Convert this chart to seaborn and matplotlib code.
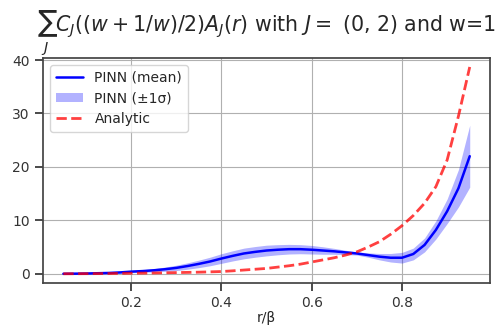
import numpy as np
import pandas as pd
import matplotlib
matplotlib.use("Agg")
import matplotlib.pyplot as plt
import seaborn as sns

r_vals = [0.05, 0.075, 0.1, 0.125, 0.15, 0.175, 0.2, 0.225, 0.25, 0.275,
          0.3, 0.325, 0.35, 0.375, 0.4, 0.425, 0.45, 0.475, 0.5, 0.525,
          0.55, 0.575, 0.6, 0.625, 0.65, 0.675, 0.7, 0.725, 0.75, 0.775,
          0.8, 0.825, 0.85, 0.875, 0.9, 0.925, 0.95]
pinn_mean = [0.0, 0.02, 0.05, 0.1, 0.15, 0.25, 0.4, 0.5, 0.65, 0.85,
             1.1, 1.45, 1.85, 2.3, 2.85, 3.35, 3.8, 4.1, 4.35, 4.5,
             4.6, 4.6, 4.5, 4.35, 4.2, 4.0, 3.8, 3.5, 3.2, 3.0,
             3.0, 3.7, 5.4, 8.2, 11.7, 16.0, 22.0]
pinn_std = [0.05, 0.06, 0.08, 0.1, 0.12, 0.15, 0.2, 0.25, 0.3, 0.4,
            0.5, 0.6, 0.7, 0.8, 0.9, 0.95, 1.0, 1.0, 1.0, 0.95,
            0.9, 0.85, 0.8, 0.7, 0.55, 0.4, 0.3, 0.4, 0.6, 0.8,
            1.0, 1.1, 1.3, 1.7, 2.3, 3.5, 5.8]
analytic = [0.0, 0.01, 0.02, 0.03, 0.05, 0.07, 0.1, 0.12, 0.15, 0.18,
            0.22, 0.26, 0.3, 0.36, 0.42, 0.55, 0.7, 0.85, 1.0, 1.25,
            1.5, 1.8, 2.2, 2.6, 3.0, 3.5, 4.1, 5.0, 6.0, 7.4,
            9.0, 10.9, 13.2, 16.3, 21.3, 29.5, 38.7]

df = pd.DataFrame({"r": r_vals, "mean": pinn_mean, "std": pinn_std, "analytic": analytic})
df["lo"] = df["mean"] - df["std"]
df["hi"] = df["mean"] + df["std"]

sns.set_theme(style="ticks")
plt.rcParams["font.family"] = ["DejaVu Sans"]

fig = plt.figure(figsize=(4.95, 3.27), dpi=100)
ax = fig.add_axes([0.087, 0.135, 0.903, 0.688])

sns.lineplot(data=df, x="r", y="mean", ax=ax, color="blue", lw=1.8, label="PINN (mean)")
ax.fill_between(df["r"], df["lo"], df["hi"], color="blue", alpha=0.3, lw=0, label="PINN (±1σ)")
sns.lineplot(data=df, x="r", y="analytic", ax=ax, color="red", alpha=0.75, lw=2,
             linestyle="--", label="Analytic")

ax.set_xlim(0.005, 0.995)
ax.set_ylim(-1.7, 40.4)
ax.set_xticks([0.2, 0.4, 0.6, 0.8])
ax.set_yticks([0, 10, 20, 30, 40])
ax.grid(True, color="#b0b0b0", lw=0.8)
ax.tick_params(labelsize=10, colors="#333333")
for s in ax.spines.values():
    s.set_color("#444444")
ax.set_xlabel("r/β", fontsize=10, labelpad=1)
ax.set_ylabel("")
ax.set_title(r"$\sum_J C_J((w+1/w)/2)A_J(r)$ with $J=$ (0, 2) and w=1", fontsize=14.8)
ax.legend(loc="upper left", fontsize=10, frameon=True)

fig.savefig("out.png", dpi=100)
